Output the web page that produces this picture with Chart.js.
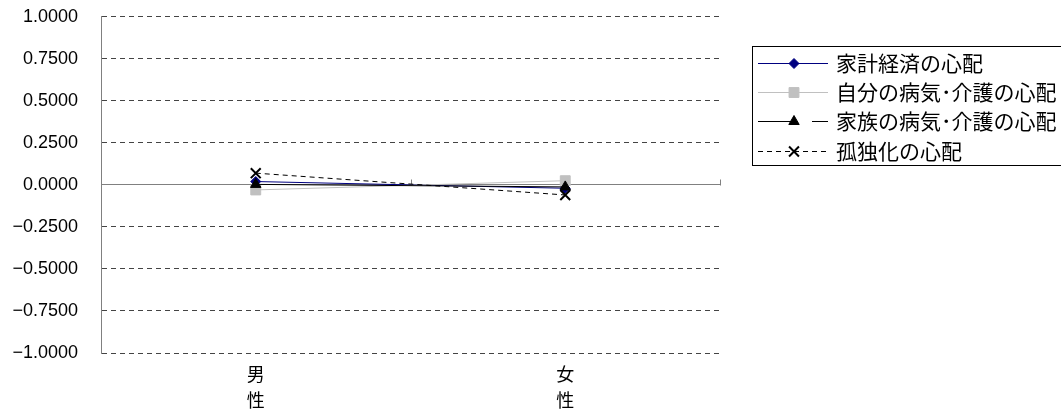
<!DOCTYPE html>
<html>
<head>
<meta charset="utf-8">
<script src="https://cdn.jsdelivr.net/npm/chart.js@4.4.0/dist/chart.umd.min.js"></script>
<style>
  html, body { margin: 0; padding: 0; background: #fff; }
  #wrap { width: 1061px; height: 410px; }
</style>
</head>
<body>
<div id="wrap"><canvas id="grafico" width="1061" height="410"></canvas></div>
<script>
// カテゴリと系列データ
const categorias = [['男', '性'], ['女', '性']];
const seriesNames = ['家計経済の心配', '自分の病気･介護の心配', '家族の病気･介護の心配', '孤独化の心配'];
const kakei = [0.02, -0.02];
const jibun = [-0.03, 0.025];
const kazoku = [0.003, -0.012];
const kodoku = [0.07, -0.06];
const yTicks = [-1, -0.75, -0.5, -0.25, 0, 0.25, 0.5, 0.75, 1];

const fmt = v => (v < 0 ? '\u2212' : '') + Math.abs(v).toFixed(4);

// 0の軸線の上向き目盛り
const zeroTicks = {
    id: 'zeroTicks',
    beforeDatasetsDraw(chart) {
        const { ctx, scales: { x, y } } = chart;
        const y0 = Math.round(y.getPixelForValue(0)) + 0.5;
        const p0 = x.getPixelForValue(0), p1 = x.getPixelForValue(1);
        const half = (p1 - p0) / 2;
        ctx.save();
        ctx.strokeStyle = '#808080';
        ctx.lineWidth = 1;
        [p0 + half, p1 + half].forEach(px => {
            const xx = Math.round(px) + 0.5;
            ctx.beginPath();
            ctx.moveTo(xx, y0);
            ctx.lineTo(xx, y0 - 6);
            ctx.stroke();
        });
        ctx.restore();
    }
};

// 凡例（枠付き）
const boxLegend = {
    id: 'boxLegend',
    afterDraw(chart) {
        const ctx = chart.ctx;
        const left = 752, top = 46, bottom = 165, right = 1064;
        ctx.save();
        ctx.strokeStyle = '#000';
        ctx.lineWidth = 1;
        ctx.strokeRect(left + 0.5, top + 0.5, right - left, bottom - top);
        ctx.font = '21px "Noto Sans CJK JP"';
        ctx.textBaseline = 'middle';
        chart.data.datasets.forEach((ds, i) => {
            const yy = Math.round(63 + i * 29.2) + 0.5;
            ctx.strokeStyle = ds.borderColor;
            ctx.lineWidth = ds.borderWidth;
            ctx.setLineDash(ds.borderDash || []);
            ctx.beginPath();
            if (i === 2) {
                ctx.moveTo(758, yy); ctx.lineTo(794, yy);
                ctx.moveTo(812, yy); ctx.lineTo(828, yy);
            } else {
                ctx.moveTo(758, yy); ctx.lineTo(828, yy);
            }
            ctx.stroke();
            ctx.setLineDash([]);
            ctx.fillStyle = ds.pointBackgroundColor;
            ctx.strokeStyle = ds.pointBorderColor;
            ctx.lineWidth = ds.pointBorderWidth || 1;
            Chart.helpers.drawPoint(ctx, {
                pointStyle: ds.pointStyle,
                radius: ds.pointRadius,
                borderWidth: ds.pointBorderWidth || 1,
                rotation: 0
            }, 794, yy);
            ctx.fillStyle = '#000';
            ctx.fillText(seriesNames[i], 836, yy);
        });
        ctx.restore();
    }
};

const serie = (label, data, color, style, radius, dash, order, pbw) => ({
    label, data,
    borderColor: color,
    backgroundColor: color,
    pointBackgroundColor: color,
    pointBorderColor: color,
    borderWidth: 1,
    borderDash: dash,
    pointStyle: style,
    pointRadius: radius,
    pointHoverRadius: radius,
    pointBorderWidth: pbw,
    tension: 0,
    order
});

new Chart(document.getElementById('grafico').getContext('2d'), {
    type: 'line',
    data: {
        labels: categorias,
        datasets: [
            serie(seriesNames[0], kakei, '#000080', 'rectRot', 5, [], 4, 1),
            serie(seriesNames[1], jibun, '#C0C0C0', 'rect', 7, [], 3, 1),
            serie(seriesNames[2], kazoku, '#000000', 'triangle', 6, [], 2, 1),
            serie(seriesNames[3], kodoku, '#000000', 'crossRot', 7, [5, 4], 1, 2)
        ]
    },
    options: {
        responsive: false,
        animation: false,
        devicePixelRatio: 1,
        layout: { padding: { top: 0, right: 341, bottom: 0, left: 0 } },
        plugins: { legend: { display: false }, tooltip: { enabled: false } },
        scales: {
            x: {
                offset: true,
                grid: { display: false, drawTicks: false },
                border: { display: false },
                ticks: {
                    color: '#000',
                    padding: 9,
                    maxRotation: 0,
                    font: { family: '"Noto Sans CJK JP"', size: 18, lineHeight: 1.4 }
                },
                afterFit(scale) { scale.height = 57; }
            },
            y: {
                min: -1, max: 1,
                afterBuildTicks(scale) { scale.ticks = yTicks.map(v => ({ value: v })); },
                grid: {
                    drawTicks: true,
                    tickLength: 17,
                    tickColor: 'rgba(0,0,0,0)',
                    color: c => (c.tick && c.tick.value === 0) ? '#808080' : '#444444',
                    lineWidth: 1
                },
                border: {
                    display: true,
                    color: '#808080',
                    width: 1,
                    dash: c => (c.tick && c.tick.value !== 0) ? [5, 4] : []
                },
                ticks: {
                    color: '#000',
                    padding: 6,
                    font: { family: '"Liberation Sans", Arial', size: 18 },
                    callback: v => fmt(v)
                },
                afterFit(scale) { scale.width = 101; }
            }
        }
    },
    plugins: [zeroTicks, boxLegend]
});
</script>
</body>
</html>
